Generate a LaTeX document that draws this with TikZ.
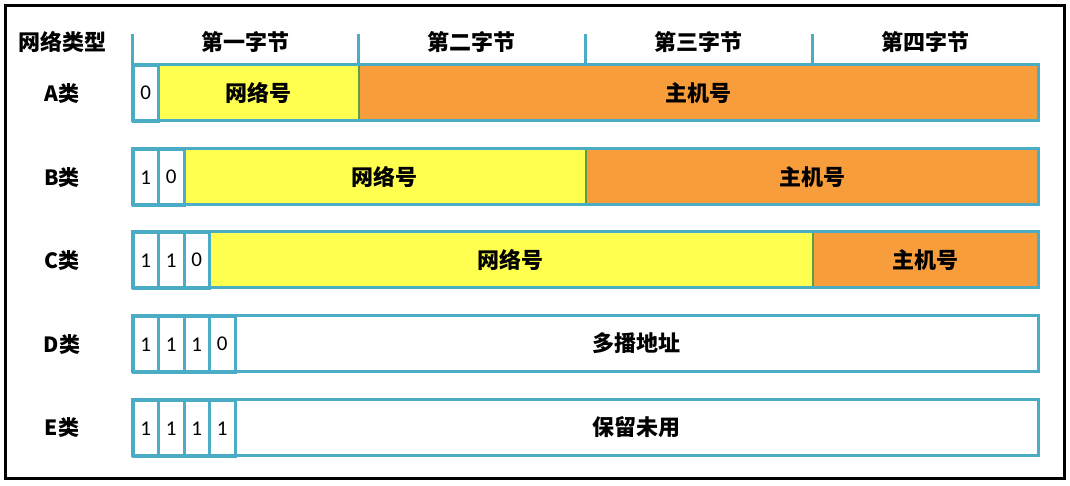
\documentclass[tikz,border=0pt]{standalone}
\usepackage{fontspec}
\newfontfamily\cjk{Noto Sans CJK SC}
\newfontfamily\digitfont{Carlito}
\definecolor{rowblue}{HTML}{4BACC6}
\definecolor{cellgreen}{HTML}{5A9E45}
\definecolor{netyellow}{HTML}{FFFF50}
\definecolor{hostorange}{HTML}{F79D3C}
\tikzset{
  cellbase/.style={rectangle, inner sep=0pt, minimum height=56pt, anchor=north west},
  bitcell/.style={cellbase, draw=rowblue, line width=2.5pt, fill=white, font=\digitfont\fontsize{21}{21}\selectfont},
  netcell/.style={cellbase, draw=cellgreen, line width=1.6pt, fill=netyellow, font=\cjk\bfseries\fontsize{22}{22}\selectfont},
  hostcell/.style={cellbase, draw=cellgreen, line width=1.6pt, fill=hostorange, font=\cjk\bfseries\fontsize{22}{22}\selectfont},
  restcell/.style={cellbase, fill=white, font=\cjk\bfseries\fontsize{22}{22}\selectfont},
  rowframe/.style={draw=rowblue, line width=3pt},
  rowlabel/.style={font=\cjk\bfseries\fontsize{21}{21}\selectfont},
  headtext/.style={font=\cjk\bfseries\fontsize{22}{22}\selectfont},
  tick/.style={draw=rowblue, line width=3pt}
}
\begin{document}
\begin{tikzpicture}[x=1pt,y=-1pt]
\useasboundingbox (0,0) rectangle (1070,485);
% outer frame
\draw[line width=3pt] (5,5) rectangle (1064,478);

% header
\node[headtext] (hType) at (62,42) {网络类型};
\node[headtext] (h1) at (245,42) {第一字节};
\node[headtext] (h2) at (471,42) {第二字节};
\node[headtext] (h3) at (698,42) {第三字节};
\node[headtext] (h4) at (925,42) {第四字节};
\foreach \tx/\nm in {132/t0,358/t1,585/t2,812/t3,1038/t4} {
  \coordinate (\nm top) at (\tx,34);
  \coordinate (\nm bot) at (\tx,64);
}
\draw[tick] (t0top) -- (t0bot);
\draw[tick] (t1top) -- (t1bot);
\draw[tick] (t2top) -- (t2bot);
\draw[tick] (t3top) -- (t3bot);

% Row A
\node[rowlabel] (lA) at (62,94) {A类};
\node[netcell, minimum width=201pt] (aNet) at (157,64) {网络号};
\node[hostcell, minimum width=680pt] (aHost) at (358,64) {主机号};
\node[bitcell, minimum width=25pt] (a1) at (132,64) {0};
\draw[rowframe] (132,64) rectangle (1038,120);

% Row B
\node[rowlabel] (lB) at (62,178) {B类};
\node[netcell, minimum width=402pt] (bNet) at (183,148) {网络号};
\node[hostcell, minimum width=453pt] (bHost) at (585,148) {主机号};
\node[bitcell, minimum width=25pt] (b1) at (132,148) {1};
\node[bitcell, minimum width=26pt] (b2) at (157,148) {0};
\draw[rowframe] (132,148) rectangle (1038,204);

% Row C
\node[rowlabel] (lC) at (62,261) {C类};
\node[netcell, minimum width=604pt] (cNet) at (208,231) {网络号};
\node[hostcell, minimum width=226pt] (cHost) at (812,231) {主机号};
\node[bitcell, minimum width=25pt] (c1) at (132,231) {1};
\node[bitcell, minimum width=26pt] (c2) at (157,231) {1};
\node[bitcell, minimum width=25pt] (c3) at (183,231) {0};
\draw[rowframe] (132,231) rectangle (1038,287);

% Row D
\node[rowlabel] (lD) at (62,345) {D类};
\node[restcell, minimum width=804pt] (dRest) at (234,315) {多播地址};
\node[bitcell, minimum width=25pt] (d1) at (132,315) {1};
\node[bitcell, minimum width=26pt] (d2) at (157,315) {1};
\node[bitcell, minimum width=25pt] (d3) at (183,315) {1};
\node[bitcell, minimum width=26pt] (d4) at (208,315) {0};
\draw[rowframe] (132,315) rectangle (1038,371);

% Row E
\node[rowlabel] (lE) at (62,428) {E类};
\node[restcell, minimum width=804pt] (eRest) at (234,399) {保留未用};
\node[bitcell, minimum width=25pt] (e1) at (132,399) {1};
\node[bitcell, minimum width=26pt] (e2) at (157,399) {1};
\node[bitcell, minimum width=25pt] (e3) at (183,399) {1};
\node[bitcell, minimum width=26pt] (e4) at (208,399) {1};
\draw[rowframe] (132,399) rectangle (1038,455);
\end{tikzpicture}
\end{document}
